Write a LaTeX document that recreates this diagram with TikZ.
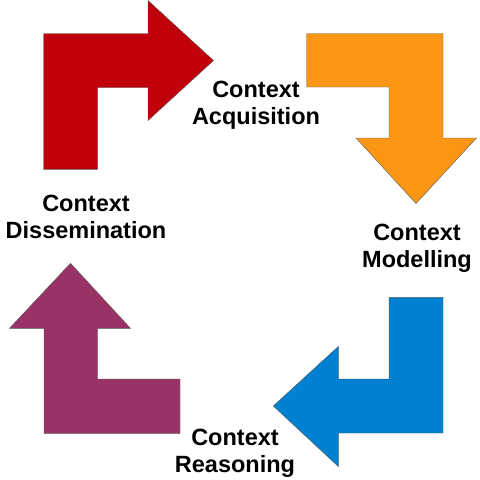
\documentclass[tikz,border=0pt]{standalone}
\usepackage{fontspec}
\setmainfont{Liberation Sans}
\usepackage{tikz}
\definecolor{acqred}{RGB}{192,0,11}
\definecolor{modorange}{RGB}{250,150,20}
\definecolor{reablue}{RGB}{0,128,208}
\definecolor{dispurple}{RGB}{153,51,102}
\tikzset{
  bent/.style={draw=black!65, line width=0.4pt},
  phase/.style={font=\fontsize{23.5}{27}\selectfont\bfseries, align=center, anchor=base, inner sep=0pt}
}

\begin{document}
\begin{tikzpicture}[x=1pt, y=-1pt]
  \useasboundingbox (0,0) rectangle (480,480);
  \fill[white] (0,0) rectangle (480,480);
  \filldraw[bent, fill=acqred] (43.5,169.3) -- (43.5,33.5) -- (148,33.5) -- (148,0.5) -- (213.5,60.5) -- (148,120.5) -- (148,87.5) -- (97.5,87.5) -- (97.5,169.3) -- cycle;
  \filldraw[bent, fill=modorange] (306.7,33.5) -- (443,33.5) -- (443,138) -- (476.5,138) -- (416,203.5) -- (356,138) -- (389,138) -- (389,87) -- (306.7,87) -- cycle;
  \filldraw[bent, fill=reablue] (389,297.3) -- (443,297.3) -- (443,433) -- (338.3,433) -- (338.3,466.5) -- (273.3,406) -- (338.3,346.5) -- (338.3,379) -- (389,379) -- cycle;
  \filldraw[bent, fill=dispurple] (180,379) -- (180,433.3) -- (44,433.3) -- (44,328.3) -- (9.5,328.3) -- (70.5,263.3) -- (130.5,328.3) -- (97.5,328.3) -- (97.5,379) -- cycle;
  \node[phase] (acq) at (256,124) {Context\\Acquisition};
  \node[phase] (mod) at (417,267) {Context\\Modelling};
  \node[phase] (rea) at (235,472) {Context\\Reasoning};
  \node[phase] (dis) at (86,238) {Context\\Dissemination};
\end{tikzpicture}
\end{document}
